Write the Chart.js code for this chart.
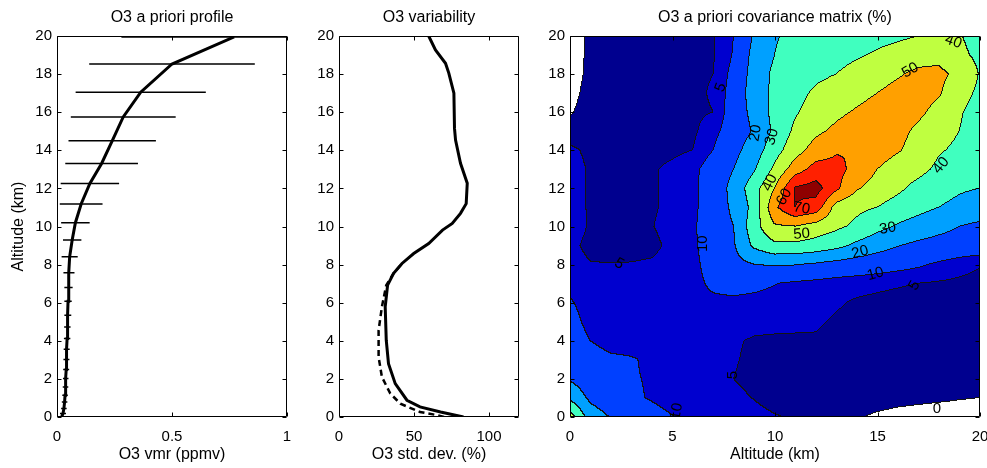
<!DOCTYPE html>
<html>
<head>
<meta charset="utf-8">
<title>O3 a priori</title>
<script src="https://cdn.jsdelivr.net/npm/chart.js@4.4.1/dist/chart.umd.min.js"></script>
<style>
  html, body { margin: 0; padding: 0; background: #fff; }
  #wrap { position: relative; width: 987px; height: 468px; overflow: hidden; }
  canvas { position: absolute; top: 0; }
</style>
</head>
<body>
<div id="wrap">
  <canvas id="profileChart" width="300" height="468" style="left:0px"></canvas>
  <canvas id="varChart" width="235" height="468" style="left:300px"></canvas>
  <canvas id="covChart" width="447" height="468" style="left:540px"></canvas>
</div>
<script>
// ---- data ----

// panel 1: a priori profile
let profileAlt = [0, 0.18, 0.44, 0.79, 1.14, 1.58, 2.02, 2.49, 3.02, 3.56, 4.12, 4.73, 5.34, 6.08, 6.8, 7.57, 8.41, 9.29, 10.2, 11.18, 12.26, 13.31, 14.5, 15.75, 17.05, 18.53, 19.95]
let profileVmr = [0.02, 0.026, 0.03, 0.033, 0.035, 0.037, 0.038, 0.04, 0.041, 0.042, 0.044, 0.045, 0.047, 0.048, 0.05, 0.052, 0.055, 0.066, 0.08, 0.105, 0.143, 0.194, 0.24, 0.288, 0.364, 0.5, 0.77]
let profileErr = [0.02, 0.013, 0.012, 0.012, 0.012, 0.012, 0.012, 0.013, 0.013, 0.013, 0.014, 0.014, 0.015, 0.016, 0.018, 0.024, 0.035, 0.04, 0.062, 0.093, 0.127, 0.158, 0.19, 0.228, 0.283, 0.36, 0.49]

// panel 2: variability, solid and dashed
let varAlt = [0, 0.26, 0.53, 0.88, 1.75, 2.8, 4.03, 5.78, 6.92, 7.54, 8.06, 8.58, 9.11, 9.81, 10.16, 10.69, 11.2, 12.27, 13.32, 14.54, 15.15, 17.0, 18.05, 18.57, 19.27, 20]
let varStd = [83, 67.7, 54, 45.3, 37.5, 33, 31.5, 30.8, 32.4, 36.4, 42, 49.8, 59.8, 69, 75.5, 81, 84.8, 85.5, 81, 77.7, 77, 76.6, 73.2, 71, 64.3, 59.8]
let varAlt2 = [0, 0.09, 0.26, 0.7, 1.23, 2.1, 3.15, 4.55, 5.78, 6.92, 7.54, 8.06]
let varStd2 = [70, 66, 54, 40.9, 34.2, 28.6, 26.4, 26.4, 28.6, 31.5, 36.4, 42]

// panel 3: covariance (%), columns = altitude 0..20 km, rows from 20 km (first) down to 0 km
let covAxis = [0, 1, 2, 3, 4, 5, 6, 7, 8, 9, 10, 11, 12, 13, 14, 15, 16, 17, 18, 19, 20]
let covRows = [
  [-3, 1, 2, 2.5, 3, 3.5, 4, 4.5, 10, 21, 29.5, 31.5, 33, 34.5, 36, 37.5, 38.5, 39.8, 41, 40.5, 37],
  [-2.5, 1, 2, 2.5, 3, 3.5, 4, 4.5, 10.5, 23, 30, 33, 35, 37, 39, 41, 43, 46, 47.5, 42, 38],
  [-2, 1, 2, 2.5, 3, 3.5, 4, 5, 12, 24, 32, 35, 38, 40, 43, 46, 49, 52, 52, 48, 39.5],
  [-1.5, 1.5, 2, 2.5, 3, 3.5, 4, 5.5, 13, 25, 32, 37, 41.5, 44, 47, 50, 53, 54, 51, 44, 38],
  [-0.5, 2, 2.5, 3, 3, 3.5, 4, 5, 14, 23, 33, 39, 44, 48, 51, 54, 55, 52, 47, 41, 36],
  [2, 3, 3, 3, 3.5, 4, 4, 8, 14, 21, 32, 42, 48, 52, 55, 56, 53, 48, 44, 40, 36],
  [6, 4, 3.5, 3.5, 3.5, 4, 5, 10, 17, 25, 36, 46, 54, 59, 60, 55, 51, 46, 41, 38, 34],
  [7, 4.5, 4, 4, 4.5, 6, 8, 14, 20, 29, 42, 55, 64, 63, 57, 50, 45, 43, 38, 34, 31],
  [7, 4.5, 4, 4, 4.5, 6, 8.5, 14, 23, 36, 50, 71, 74, 62, 51, 46, 42, 37, 33, 31, 30],
  [7, 4.5, 4, 4, 4.5, 6, 8.5, 14, 22, 33, 58, 70, 66, 46, 42, 40, 36, 33, 30, 28, 26],
  [7, 4.6, 4.5, 4.5, 4.8, 6.5, 9, 14, 20, 36, 49, 50, 46, 42, 38, 33, 29, 26, 23, 20, 18],
  [6, 4, 3.5, 3.5, 4, 6, 9, 13, 19, 32, 38, 38, 36, 33, 28, 24, 20.5, 18, 16.5, 15.5, 15],
  [6.5, 5.2, 5.1, 5.2, 5.5, 6.5, 8.5, 12.5, 17, 20, 21, 20.5, 19, 17, 15.5, 14, 12.5, 11, 9, 7, 5.3],
  [9, 7, 6.5, 6.5, 6.5, 7, 8.5, 11, 12, 11.5, 10.2, 9, 8, 7, 6.5, 6, 5.5, 5, 4.5, 4, 3.5],
  [10.5, 8, 7, 7, 7, 7.5, 8.5, 9, 9, 8.5, 8, 7.5, 6.5, 5.5, 4.5, 4, 3.5, 3, 3, 2.5, 2.5],
  [12, 8.5, 7.5, 7, 7, 7, 7, 7, 6.5, 6, 6, 5.8, 5.5, 4.5, 3.5, 3, 2.5, 2.2, 2, 2, 2],
  [13, 10, 8, 7.5, 7, 6.5, 6, 5.8, 5.3, 4.7, 4.5, 4.5, 4.6, 4, 3, 2.5, 2, 1.8, 1.5, 1.5, 1.5],
  [15, 12.5, 11, 10.5, 9, 7.5, 6.5, 5.8, 5.2, 4.5, 4, 3.5, 3.2, 2.8, 2.3, 2, 1.6, 1.4, 1.2, 1.2, 1.2],
  [19, 14, 12, 10.5, 9.5, 8, 6.8, 6, 5, 4.3, 3.8, 3.4, 3, 2.6, 2.2, 1.8, 1.4, 1.2, 1, 1, 1],
  [28, 18, 14, 11, 9.5, 8, 7, 6.3, 5.6, 4.9, 4, 3.3, 2.7, 2.2, 1.8, 1.4, 1, 0.7, 0.5, 0.2, 0],
  [45, 25, 19.5, 15, 12, 10.2, 8.5, 7.5, 6.5, 5.8, 5.2, 4.6, 3, 1.5, 0.3, -0.5, -1, -1.2, -1.5, -1.5, -1.5]
]
let covLevels = [0, 5, 10, 20, 30, 40, 50, 60, 70]
// contour labels: [x km, y km, text, angle in degrees]
let covLabels = [
  [18.7, 19.7, '40', 20], [16.6, 18.2, '50', -30], [7.35, 17.3, '5', -70],
  [9.05, 14.9, '20', -80], [9.85, 14.7, '30', -75], [9.75, 12.3, '40', -65],
  [10.45, 11.55, '60', -60], [11.3, 10.95, '70', 10], [18.1, 13.2, '40', -50],
  [11.3, 9.6, '50', -5], [15.5, 9.9, '30', -10], [14.15, 8.65, '20', -15],
  [14.9, 7.5, '10', -15], [16.8, 6.9, '5', -60], [2.4, 8.05, '5', 30],
  [6.5, 9.1, '10', -90], [7.95, 2.2, '5', -90], [5.2, 0.3, '10', -80], [17.9, 0.45, '0', 0]
]

// tick labels
let altTicks = [0, 2, 4, 6, 8, 10, 12, 14, 16, 18, 20]
let vmrTicks = [0, 0.5, 1]
let stdTicks = [0, 50, 100]
let covTicks = [0, 5, 10, 15, 20]

// ---- styling ----
const FONT = 'Liberation Sans, Arial, Helvetica, sans-serif'
const covColors = ['#ffffff', '#00008f', '#0000cf', '#0040ff', '#00a0ff', '#40ffbf', '#bfff40', '#ffa000', '#ff2000', '#8f0000']

function xScale(min, max, ticks, label) {
    return {
        type: 'linear', min: min, max: max,
        grid: { display: false, drawTicks: false },
        border: { display: false },
        afterBuildTicks: function (s) { s.ticks = ticks.map(v => ({ value: v })) },
        afterFit: function (s) { s.height = 51; s.paddingLeft = 0; s.paddingRight = 0 },
        ticks: { color: '#000', font: { family: FONT, size: 15 }, padding: 10.5, maxRotation: 0, callback: v => String(v) },
        title: { display: true, text: label, color: '#000', font: { family: FONT, size: 16 }, padding: { top: 0, bottom: 3.4 } }
    }
}

function yScale(width, label) {
    let s = {
        type: 'linear', min: 0, max: 20,
        grid: { display: false, drawTicks: false },
        border: { display: false },
        afterBuildTicks: function (s) { s.ticks = altTicks.map(v => ({ value: v })) },
        afterFit: function (s) { s.width = width; s.paddingTop = 0; s.paddingBottom = 0 },
        ticks: { color: '#000', font: { family: FONT, size: 15 }, padding: 5, callback: v => String(v) },
        title: { display: false }
    }
    if (label) s.title = { display: true, text: label, color: '#000', font: { family: FONT, size: 16 }, padding: { top: 9.4, bottom: 0 } }
    return s
}

function titleOpts(text) {
    return { display: true, text: text, color: '#000', fullSize: false, font: { family: FONT, size: 16, weight: 'normal' }, padding: { top: 7.8, bottom: 9 } }
}

// box round the plot with inward ticks on all four sides
const boxTicks = {
    id: 'boxTicks',
    afterDraw(chart) {
        const { ctx, chartArea: a, scales } = chart
        const len = 4
        const l = Math.round(a.left) + 0.5, r = Math.round(a.right) - 0.5
        const t = Math.round(a.top) + 0.5, b = Math.round(a.bottom) - 0.5
        ctx.save()
        ctx.strokeStyle = '#000'
        ctx.lineWidth = 1
        ctx.beginPath()
        ctx.rect(l, t, r - l, b - t)
        scales.x.ticks.forEach(tk => {
            const px = Math.round(scales.x.getPixelForValue(tk.value)) + 0.5
            ctx.moveTo(px, b); ctx.lineTo(px, b - len)
            ctx.moveTo(px, t); ctx.lineTo(px, t + len)
        })
        scales.y.ticks.forEach(tk => {
            const py = Math.round(scales.y.getPixelForValue(tk.value)) + 0.5
            ctx.moveTo(l, py); ctx.lineTo(l + len, py)
            ctx.moveTo(r, py); ctx.lineTo(r - len, py)
        })
        ctx.stroke()
        ctx.restore()
    }
}

// horizontal error bars for the profile
const errorBars = {
    id: 'errorBars',
    afterDatasetsDraw(chart) {
        const { ctx, chartArea: a, scales: { x, y } } = chart
        ctx.save()
        ctx.beginPath()
        ctx.rect(a.left, a.top, a.right - a.left, a.bottom - a.top)
        ctx.clip()
        ctx.strokeStyle = '#000'
        ctx.lineWidth = 1.5
        ctx.beginPath()
        for (let i = 0; i < profileAlt.length; i++) {
            const py = y.getPixelForValue(profileAlt[i])
            ctx.moveTo(x.getPixelForValue(profileVmr[i] - profileErr[i]), py)
            ctx.lineTo(x.getPixelForValue(profileVmr[i] + profileErr[i]), py)
        }
        ctx.stroke()
        ctx.restore()
    }
}

function covAt(vx, vy) {
    const n = covAxis.length - 1
    const step = covAxis[1] - covAxis[0]
    let fx = (Math.min(Math.max(vx, covAxis[0]), covAxis[n]) - covAxis[0]) / step
    let fr = (covAxis[n] - Math.min(Math.max(vy, covAxis[0]), covAxis[n])) / step
    let i = Math.min(Math.floor(fx), n - 1), j = Math.min(Math.floor(fr), n - 1)
    let tx = fx - i, ty = fr - j
    return covRows[j][i] * (1 - tx) * (1 - ty) + covRows[j][i + 1] * tx * (1 - ty) +
        covRows[j + 1][i] * (1 - tx) * ty + covRows[j + 1][i + 1] * tx * ty
}

function hexRgb(h) {
    return [parseInt(h.substr(1, 2), 16), parseInt(h.substr(3, 2), 16), parseInt(h.substr(5, 2), 16)]
}

// filled contours, drawn from the matrix through the chart scales
const covContour = {
    id: 'covContour',
    beforeDatasetsDraw(chart) {
        const { ctx, chartArea: a, scales: { x, y } } = chart
        const left = Math.round(a.left), top = Math.round(a.top)
        const w = Math.round(a.right) - left, h = Math.round(a.bottom) - top
        const lev = new Int8Array(w * h)
        for (let j = 0; j < h; j++) {
            const vy = y.getValueForPixel(top + j + 0.5)
            for (let i = 0; i < w; i++) {
                const v = covAt(x.getValueForPixel(left + i + 0.5), vy)
                let k = 0
                while (k < covLevels.length && v >= covLevels[k]) k++
                lev[j * w + i] = k
            }
        }
        const rgb = covColors.map(hexRgb)
        const img = ctx.createImageData(w, h)
        for (let j = 0; j < h; j++) {
            for (let i = 0; i < w; i++) {
                const p = j * w + i
                const k = lev[p]
                let c = rgb[k]
                if ((i + 1 < w && lev[p + 1] !== k) || (j + 1 < h && lev[p + w] !== k)) c = [20, 20, 20]
                img.data[p * 4] = c[0]
                img.data[p * 4 + 1] = c[1]
                img.data[p * 4 + 2] = c[2]
                img.data[p * 4 + 3] = 255
            }
        }
        ctx.putImageData(img, left, top)

        ctx.save()
        ctx.beginPath()
        ctx.rect(a.left, a.top, a.right - a.left, a.bottom - a.top)
        ctx.clip()
        ctx.fillStyle = '#000'
        ctx.font = '15px ' + FONT
        ctx.textAlign = 'center'
        ctx.textBaseline = 'middle'
        covLabels.forEach(lb => {
            ctx.save()
            ctx.translate(x.getPixelForValue(lb[0]), y.getPixelForValue(lb[1]))
            ctx.rotate(lb[3] * Math.PI / 180)
            ctx.fillText(lb[2], 0, 0)
            ctx.restore()
        })
        ctx.restore()
    }
}

// ---- charts ----
new Chart(document.getElementById('profileChart'), {
    type: 'scatter',
    data: {
        datasets: [{
            label: 'O3 a priori',
            data: profileAlt.map((a, i) => ({ x: profileVmr[i], y: a })),
            showLine: true, borderColor: '#000', borderWidth: 3, pointRadius: 0, tension: 0
        }]
    },
    options: {
        responsive: false, animation: false,
        layout: { padding: { left: 0, right: 13, top: 0, bottom: 0 } },
        plugins: { legend: { display: false }, tooltip: { enabled: false }, title: titleOpts('O3 a priori profile') },
        scales: { x: xScale(0, 1, vmrTicks, 'O3 vmr (ppmv)'), y: yScale(57, 'Altitude (km)') }
    },
    plugins: [errorBars, boxTicks]
})

new Chart(document.getElementById('varChart'), {
    type: 'scatter',
    data: {
        datasets: [{
            label: 'std dev',
            data: varAlt.map((a, i) => ({ x: varStd[i], y: a })),
            showLine: true, borderColor: '#000', borderWidth: 3, pointRadius: 0, tension: 0
        }, {
            label: 'std dev 2',
            data: varAlt2.map((a, i) => ({ x: varStd2[i], y: a })),
            showLine: true, borderColor: '#000', borderWidth: 2.5, borderDash: [6, 4], pointRadius: 0, tension: 0
        }]
    },
    options: {
        responsive: false, animation: false,
        layout: { padding: { left: 0, right: 16, top: 0, bottom: 0 } },
        plugins: { legend: { display: false }, tooltip: { enabled: false }, title: titleOpts('O3 variability') },
        scales: { x: xScale(0, 120, stdTicks, 'O3 std. dev. (%)'), y: yScale(39, null) }
    },
    plugins: [boxTicks]
})

new Chart(document.getElementById('covChart'), {
    type: 'scatter',
    data: { datasets: [{ label: 'cov', data: [] }] },
    options: {
        responsive: false, animation: false,
        layout: { padding: { left: 0, right: 7, top: 0, bottom: 0 } },
        plugins: { legend: { display: false }, tooltip: { enabled: false }, title: titleOpts('O3 a priori covariance matrix (%)') },
        scales: { x: xScale(0, 20, covTicks, 'Altitude (km)'), y: yScale(30, null) }
    },
    plugins: [covContour, boxTicks]
})
</script>
</body>
</html>
